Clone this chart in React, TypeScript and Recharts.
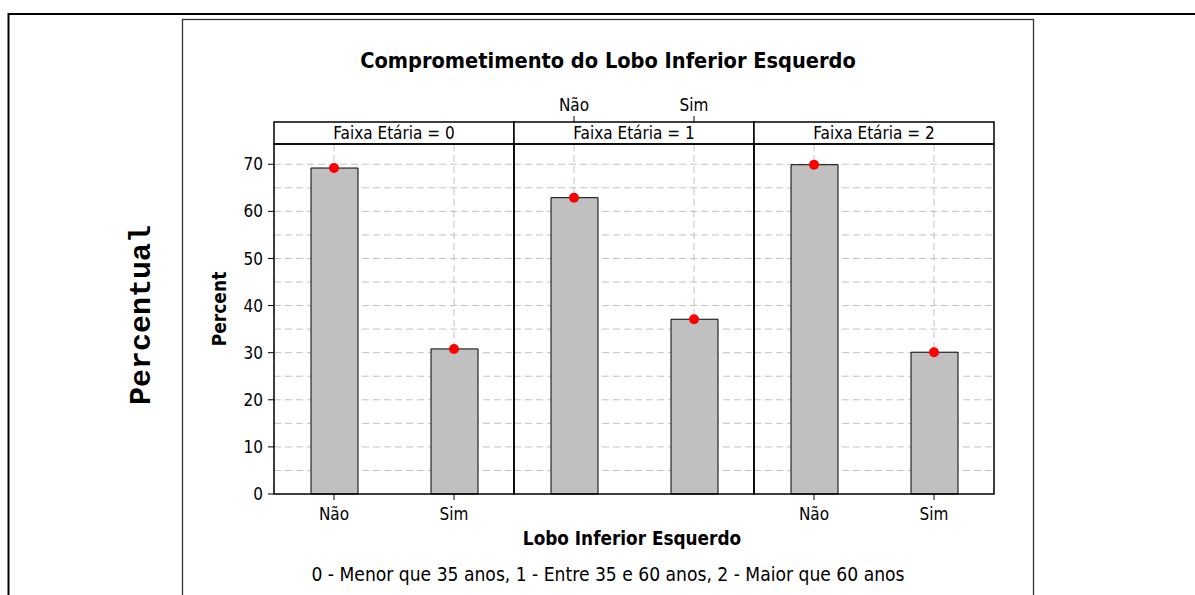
import { ComposedChart, Bar, Line, XAxis, YAxis, CartesianGrid } from 'recharts';

const categories = ['Não', 'Sim'];
const faixas = ['0', '1', '2'];
const faixa0 = [69.2, 30.8];
const faixa1 = [62.9, 37.1];
const faixa2 = [69.9, 30.1];
const yTicks = [0, 10, 20, 30, 40, 50, 60, 70];
const gridLines = [5, 10, 15, 20, 25, 30, 35, 40, 45, 50, 55, 60, 65, 70];

const FONT = '"DejaVu Sans Condensed", "DejaVu Sans", sans-serif';
const MONO = '"Courier New", Courier, "Nimbus Mono PS", FreeMono, "Liberation Mono", monospace';

// layout of the trellis (pixels on the page)
const PLOT_LEFT = 274;
const PANEL_W = 240;
const PLOT_TOP = 144;
const PLOT_BOTTOM = 494;
const STRIP_TOP = 122;
const CHART_TOP = 90;
const CHART_BOTTOM = 530;
const Y_AXIS_W = 80;

const tickStyle = { fontSize: 17, fill: '#000', fontFamily: FONT, fontStretch: 'condensed' as const };

const Panel = ({ idx, values }: { idx: number; values: number[] }) => {
  const data = categories.map((c, i) => ({ lobo: c, pct: values[i] }));
  const first = idx === 0;
  const topAxis = idx === 1;
  const left = PLOT_LEFT + PANEL_W * idx - (first ? Y_AXIS_W : 0);
  const width = PANEL_W + (first ? Y_AXIS_W : 0);

  return (
    <div style={{ position: 'absolute', left, top: CHART_TOP }}>
      <ComposedChart
        width={width}
        height={CHART_BOTTOM - CHART_TOP}
        data={data}
        barSize={47}
        margin={{ top: topAxis ? 0 : PLOT_TOP - CHART_TOP, right: 0, bottom: topAxis ? CHART_BOTTOM - PLOT_BOTTOM : 0, left: 0 }}
      >
        <CartesianGrid stroke="#c2c2c2" strokeDasharray="7 4" horizontalValues={gridLines} />
        <XAxis
          dataKey="lobo"
          orientation={topAxis ? 'top' : 'bottom'}
          height={topAxis ? PLOT_TOP - CHART_TOP : CHART_BOTTOM - PLOT_BOTTOM}
          axisLine={false}
          tickLine={{ stroke: '#000' }}
          tickSize={topAxis ? 28 : 6}
          tickMargin={topAxis ? 5 : 8}
          tick={tickStyle}
          interval={0}
        />
        <YAxis
          hide={!first}
          width={Y_AXIS_W}
          domain={[0, 74.3]}
          ticks={yTicks}
          axisLine={false}
          tickLine={{ stroke: '#000' }}
          tickSize={6}
          tickMargin={5}
          tick={tickStyle}
        />
        <Bar dataKey="pct" fill="#c0c0c0" stroke="#000" strokeWidth={1} isAnimationActive={false} />
        <Line dataKey="pct" stroke="none" dot={{ r: 5, fill: '#ff0000', stroke: 'none' }} activeDot={false} isAnimationActive={false} />
      </ComposedChart>
    </div>
  );
};

export default function App() {
  const panels = [faixa0, faixa1, faixa2];
  return (
    <div style={{ position: 'absolute', left: 0, top: 0, width: 1195, height: 595, background: '#fff', overflow: 'hidden', fontFamily: FONT }}>
      {panels.map((v, i) => (
        <Panel key={i} idx={i} values={v} />
      ))}
      <svg width={1195} height={595} style={{ position: 'absolute', left: 0, top: 0, pointerEvents: 'none' }}>
        {/* page frame */}
        <line x1={8} y1={14} x2={1195} y2={14} stroke="#000" strokeWidth={2} />
        <line x1={8.5} y1={13} x2={8.5} y2={595} stroke="#000" strokeWidth={2} />
        <rect x={182.5} y={19.5} width={851} height={600} fill="none" stroke="#333" strokeWidth={1.3} />

        {/* strips + panel borders */}
        {faixas.map((f, i) => (
          <g key={f}>
            <rect x={PLOT_LEFT + PANEL_W * i} y={STRIP_TOP} width={PANEL_W} height={PLOT_TOP - STRIP_TOP} fill="#fff" stroke="#000" strokeWidth={1.5} />
            <rect x={PLOT_LEFT + PANEL_W * i} y={PLOT_TOP} width={PANEL_W} height={PLOT_BOTTOM - PLOT_TOP} fill="none" stroke="#000" strokeWidth={1.5} />
            <text x={PLOT_LEFT + PANEL_W * i + PANEL_W / 2} y={139} textAnchor="middle" fontSize={17} fontFamily={FONT} fontStretch="condensed">
              {`Faixa Etária = ${f}`}
            </text>
          </g>
        ))}

        <text x={608} y={68} textAnchor="middle" fontSize={21.6} fontWeight="bold" fontFamily={FONT} fontStretch="condensed">
          Comprometimento do Lobo Inferior Esquerdo
        </text>
        <text transform="translate(226,309) rotate(-90)" textAnchor="middle" fontSize={19} fontWeight="bold" fontFamily={FONT} fontStretch="condensed">
          Percent
        </text>
        <text x={632} y={545} textAnchor="middle" fontSize={18.8} fontWeight="bold" fontFamily={FONT} fontStretch="condensed">
          Lobo Inferior Esquerdo
        </text>
        <text x={608} y={581} textAnchor="middle" fontSize={19.1} fontFamily={FONT} fontStretch="condensed">
          0 - Menor que 35 anos, 1 - Entre 35 e 60 anos, 2 - Maior que 60 anos
        </text>
        <text transform="translate(150,315) rotate(-90)" textAnchor="middle" fontSize={30} fontWeight="bold" fontFamily={MONO}>
          Percentual
        </text>
      </svg>
    </div>
  );
}
